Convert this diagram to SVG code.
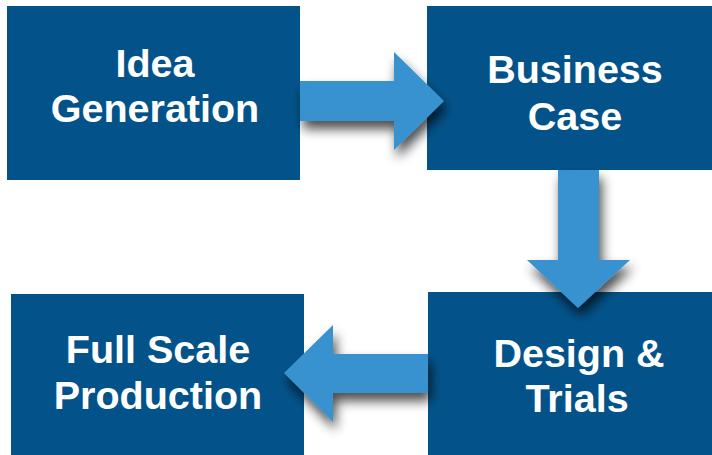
<svg xmlns="http://www.w3.org/2000/svg" width="712" height="455" viewBox="0 0 712 455">
  <defs>
    <style>
      .box { fill: #03538a; }
      .arrow { fill: #3892d0; filter: url(#shadow); }
      .label { fill: #ffffff; font-family: "Liberation Sans", Arial, sans-serif; font-weight: bold; font-size: 39.5px; text-anchor: middle; }
    </style>
    <filter id="shadow" x="-30%" y="-30%" width="160%" height="170%">
      <feGaussianBlur in="SourceAlpha" stdDeviation="6"/>
      <feOffset dx="3" dy="8" result="b"/>
      <feComponentTransfer><feFuncA type="linear" slope="0.7"/></feComponentTransfer>
      <feMerge><feMergeNode/><feMergeNode in="SourceGraphic"/></feMerge>
    </filter>
  </defs>
  <rect width="712" height="455" fill="#ffffff"/>
  <g id="idea">
    <rect class="box" x="7" y="6" width="293" height="174"/>
    <text class="label" x="155" y="77">Idea</text>
    <text class="label" x="155" y="122">Generation</text>
  </g>
  <g id="business">
    <rect class="box" x="427" y="6" width="290" height="164"/>
    <text class="label" x="575" y="83">Business</text>
    <text class="label" x="575" y="130">Case</text>
  </g>
  <g id="design">
    <rect class="box" x="428" y="292" width="290" height="170"/>
    <text class="label" x="579" y="367">Design &amp;</text>
    <text class="label" x="577" y="412">Trials</text>
  </g>
  <g id="fullscale">
    <rect class="box" x="11" y="294" width="293" height="170"/>
    <text class="label" x="158" y="363">Full Scale</text>
    <text class="label" x="158" y="409">Production</text>
  </g>
  <g id="connectors">
    <polygon class="arrow" points="300,81 394,81 394,52 444,101 394,150 394,121 300,121"/>
    <polygon class="arrow" points="558,170 599,170 599,260 630,260 578,308 527,260 558,260"/>
    <polygon class="arrow" points="428,354 333,354 333,325 284,373 333,422 333,393 428,393"/>
  </g>
</svg>
